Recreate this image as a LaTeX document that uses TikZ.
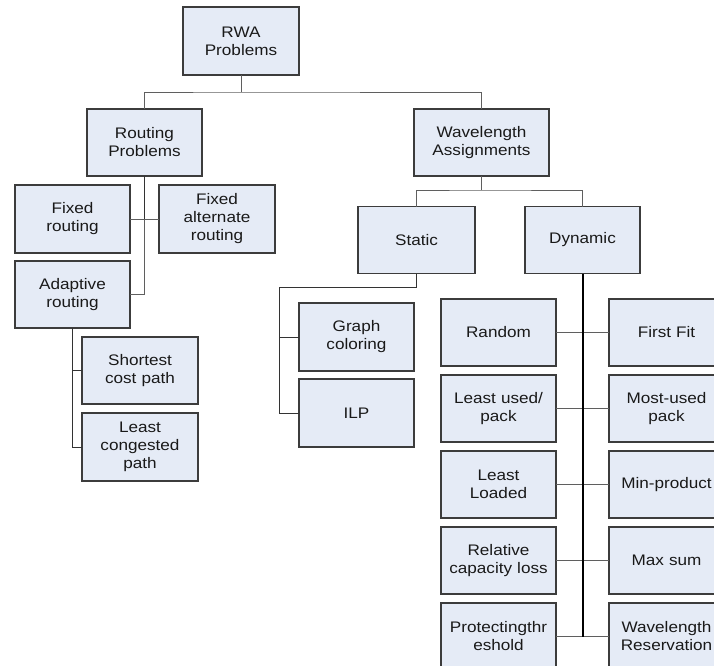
\documentclass[tikz,border=0pt]{standalone}
\usepackage{fontspec}
\setmainfont{Liberation Sans}[FakeStretch=1.12]
\definecolor{boxfill}{RGB}{229,235,246}
\definecolor{boxdraw}{RGB}{60,60,60}
\definecolor{conn}{RGB}{95,95,95}
\tikzset{
  box/.style={draw=boxdraw, line width=1.1pt, fill=boxfill, minimum width=115pt, minimum height=67pt,
    text width=112pt, align=center, inner sep=0pt, outer sep=0pt,
    font=\fontsize{15.3pt}{18pt}\selectfont, text=black!90},
  wide/.style={minimum width=135pt, text width=132pt},
  link/.style={draw=conn, line width=1pt},
  dark/.style={draw=black!80, line width=1pt},
  trunk/.style={draw=black, line width=2pt}
}
\begin{document}
\begin{tikzpicture}[x=1pt,y=-1pt]
\useasboundingbox (0,0) rectangle (714,665);
\clip (0,0) rectangle (714,665);
% nodes
\node[box, minimum width=116pt, minimum height=68pt] (rwa) at (241,41) {RWA\\Problems};
\node[box] (rp) at (144.5,142.5) {Routing\\Problems};
\node[box, wide] (wa) at (481.5,142.5) {Wavelength\\Assignments};
\node[box, minimum height=68pt] (fixed) at (72.5,219) {Fixed\\routing};
\node[box, minimum width=116pt, minimum height=68pt] (fixalt) at (217,219) {Fixed\\alternate\\routing};
\node[box] (adaptive) at (72.5,294.5) {Adaptive\\routing};
\node[box, minimum width=116pt] (shortest) at (140,370.5) {Shortest\\cost path};
\node[box, minimum width=116pt, minimum height=68pt] (leastcong) at (140,447) {Least\\congested\\path};
\node[box, minimum width=117pt] (static) at (416.5,240) {Static};
\node[box] (dynamic) at (582.5,240) {Dynamic};
\node[box, minimum height=68pt] (graph) at (356.5,337) {Graph\\coloring};
\node[box, minimum height=68pt] (ilp) at (356.5,413) {ILP};
\node[box] (random) at (498.5,332.5) {Random};
\node[box] (firstfit) at (666.5,332.5) {First Fit};
\node[box] (leastused) at (498.5,408.5) {Least used/\\pack};
\node[box] (mostused) at (666.5,408.5) {Most-used\\pack};
\node[box] (leastloaded) at (498.5,484.5) {Least\\Loaded};
\node[box] (minprod) at (666.5,484.5) {Min-product};
\node[box] (relative) at (498.5,560.5) {Relative\\capacity loss};
\node[box] (maxsum) at (666.5,560.5) {Max sum};
\node[box] (protect) at (498.5,636.5) {Protectingthr\\eshold};
\node[box] (wavres) at (666.5,636.5) {Wavelength\\Reservation};
% bus coordinates
\coordinate (b1) at (241,92);
\coordinate (b2) at (481.5,190);
\coordinate (s1) at (279,287);
% connectors
\draw[link] (rwa.south) -- (b1);
\draw[link] (rp.north) |- (b1) -| (wa.north);
\draw[dark] (rp.south) -- (rp.south |- fixed.east);
\draw[link] (rp.south |- fixed.east) |- (adaptive.east);
\draw[link] (fixed.east) -- (fixalt.west);
\draw[dark] (adaptive.south) |- (shortest.west);
\draw[dark] (adaptive.south) |- (leastcong.west);
\draw[link] (wa.south) -- (b2);
\draw[link] (static.north) |- (b2) -| (dynamic.north);
\draw[dark] (static.south) |- (s1) |- (graph.west);
\draw[dark] (s1) |- (ilp.west);
\draw[link] (random.east) -- (firstfit.west);
\draw[link] (leastused.east) -- (mostused.west);
\draw[link] (leastloaded.east) -- (minprod.west);
\draw[link] (relative.east) -- (maxsum.west);
\draw[link] (protect.east) -- (wavres.west);
\draw[trunk] (dynamic.south) -- (dynamic.south |- protect.east);
\end{tikzpicture}
\end{document}
